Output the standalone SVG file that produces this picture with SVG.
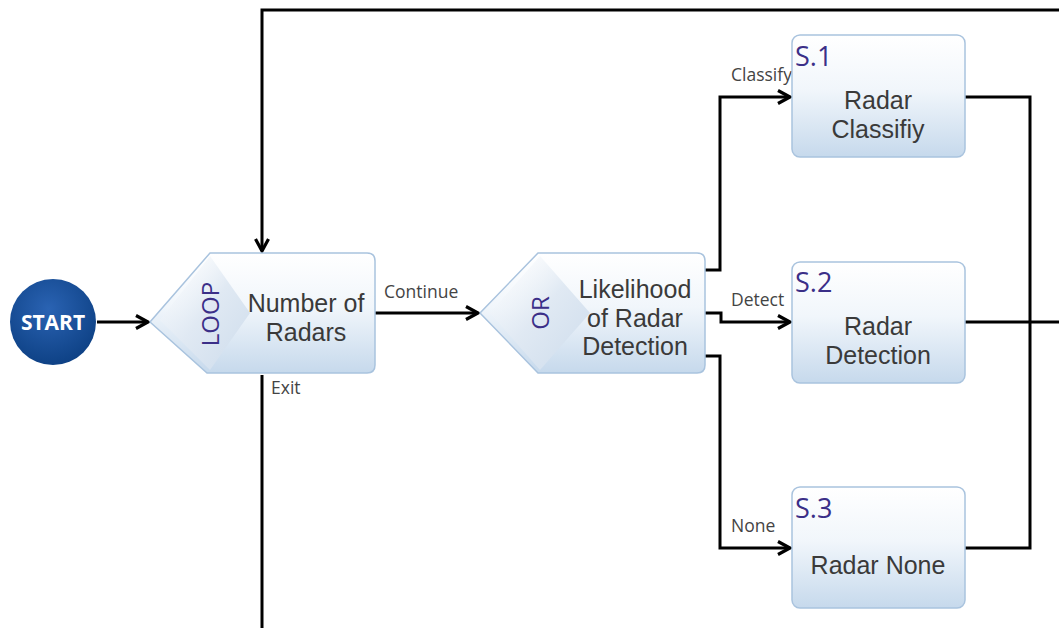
<svg xmlns="http://www.w3.org/2000/svg" width="1059" height="628" viewBox="0 0 1059 628">
  <defs>
    <linearGradient id="nodeFill" x1="0" y1="0" x2="0" y2="1">
      <stop offset="0" stop-color="#ffffff"/>
      <stop offset="0.45" stop-color="#f1f6fb"/>
      <stop offset="1" stop-color="#c6d9ec"/>
    </linearGradient>
    <linearGradient id="tagFill" x1="0" y1="0" x2="1" y2="1">
      <stop offset="0" stop-color="#ffffff" stop-opacity="0"/>
      <stop offset="0.5" stop-color="#e0e9f3"/>
      <stop offset="1" stop-color="#cddcec"/>
    </linearGradient>
    <radialGradient id="startFill" cx="0.45" cy="0.35" r="0.7">
      <stop offset="0" stop-color="#2a63b3"/>
      <stop offset="1" stop-color="#0c3f82"/>
    </radialGradient>
    <marker id="arrow" viewBox="0 0 16 16" refX="14" refY="8" markerWidth="16" markerHeight="16" markerUnits="userSpaceOnUse" orient="auto">
      <path d="M2,1.5 L14,8 L2,14.5" fill="none" stroke="#000" stroke-width="3.2" stroke-linejoin="miter"/>
    </marker>
  </defs>
  <style>
    .wire { fill: none; stroke: #000; stroke-width: 3; }
    .node { fill: url(#nodeFill); stroke: #a9c3de; stroke-width: 1.5; }
    .tag { fill: url(#tagFill); }
    .label { font-family: "Liberation Sans", Arial, sans-serif; font-size: 25px; fill: #3a3a3a; text-anchor: middle; }
    .kind { font-family: "Open Sans", "Liberation Sans", sans-serif; font-size: 24px; fill: #3b2f88; text-anchor: middle; }
    .step { font-family: "Open Sans", "Liberation Sans", sans-serif; font-size: 27px; fill: #3b2f88; }
    .edge { font-family: "Open Sans", "Liberation Sans", sans-serif; font-size: 17.5px; fill: #444; }
  </style>

  <rect width="1059" height="628" fill="#ffffff"/>

  <!-- connectors -->
  <g id="connectors">
    <path class="wire" d="M97,322 H148" marker-end="url(#arrow)"/>
    <path class="wire" d="M1059,10 H262 V251" marker-end="url(#arrow)"/>
    <path class="wire" d="M262,375 V628"/>
    <path class="wire" d="M375,313 H478" marker-end="url(#arrow)"/>
    <path class="wire" d="M705,270 H720 V97 H790" marker-end="url(#arrow)"/>
    <path class="wire" d="M705,313 H721 V322 H790" marker-end="url(#arrow)"/>
    <path class="wire" d="M705,356 H720 V548 H790" marker-end="url(#arrow)"/>
    <path class="wire" d="M965,97 H1030 V548 H965"/>
    <path class="wire" d="M965,322 H1059"/>
    <text class="edge" x="384" y="298">Continue</text>
    <text class="edge" x="271" y="394">Exit</text>
    <text class="edge" x="731" y="81">Classify</text>
    <text class="edge" x="731" y="306">Detect</text>
    <text class="edge" x="731" y="532">None</text>
  </g>

  <!-- start -->
  <g id="start">
    <circle cx="53" cy="322" r="43" fill="url(#startFill)"/>
    <text x="53" y="330" font-family="'Open Sans', 'Liberation Sans', sans-serif" font-size="21" font-weight="bold" fill="#ffffff" text-anchor="middle">START</text>
  </g>

  <!-- loop node -->
  <g id="loop">
    <path class="node" d="M210,253 H367 Q375,253 375,261 V365 Q375,373 367,373 H207 L150,322 Z"/>
    <polygon class="tag" points="210,256 250,313 210,370 160,320"/>
    <text class="kind" transform="translate(219,314) rotate(-90)">LOOP</text>
    <text class="label" x="306" y="312">Number of<tspan x="306" dy="28.5">Radars</tspan></text>
  </g>

  <!-- or node -->
  <g id="or">
    <path class="node" d="M538,253 H697 Q705,253 705,261 V365 Q705,373 697,373 H538 L480,313 Z"/>
    <polygon class="tag" points="540,256 590,313 540,370 490,313"/>
    <text class="kind" transform="translate(549,313) rotate(-90)">OR</text>
    <text class="label" x="635" y="298">Likelihood<tspan x="635" dy="28.5">of Radar</tspan><tspan x="635" dy="28.5">Detection</tspan></text>
  </g>

  <!-- step nodes -->
  <g id="s1">
    <rect class="node" x="792" y="35" width="173" height="122" rx="8"/>
    <text class="step" x="795" y="66">S.1</text>
    <text class="label" x="878" y="109">Radar<tspan x="878" dy="28.5">Classifiy</tspan></text>
  </g>
  <g id="s2">
    <rect class="node" x="792" y="262" width="173" height="121" rx="8"/>
    <text class="step" x="795" y="292">S.2</text>
    <text class="label" x="878" y="335">Radar<tspan x="878" dy="28.5">Detection</tspan></text>
  </g>
  <g id="s3">
    <rect class="node" x="792" y="487" width="173" height="121" rx="8"/>
    <text class="step" x="795" y="518">S.3</text>
    <text class="label" x="878" y="574">Radar None</text>
  </g>
</svg>
